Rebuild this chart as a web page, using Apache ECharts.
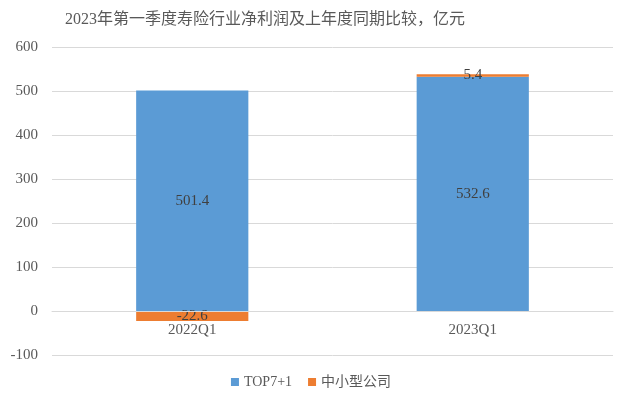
<!DOCTYPE html>
<html><head><meta charset="utf-8">
<script src="https://cdn.jsdelivr.net/npm/echarts@6/dist/echarts.min.js"></script>
<style>html,body{margin:0;padding:0;background:#fff}#c{width:622px;height:414px}</style>
</head><body><div id="c"></div>
<script>
const categories = ['2022Q1', '2023Q1'];
const top7Values = [501.4, 532.6];
const smallValues = [-22.6, 5.4];
const yTicks = { min: -100, max: 600, interval: 100 };

const serif = '"Liberation Serif", "Times New Roman", "Noto Sans CJK SC", serif';
const chart = echarts.init(document.getElementById('c'));
chart.setOption({
  animation: false,
  title: {
    text: '2023年第一季度寿险行业净利润及上年度同期比较，亿元',
    left: 60, top: 7,
    textStyle: { fontFamily: serif, fontSize: 16, fontWeight: 'normal', color: '#595959' }
  },
  legend: {
    bottom: 20, left: 'center', itemWidth: 8, itemHeight: 8, itemGap: 16,
    icon: 'rect',
    textStyle: { fontFamily: serif, fontSize: 14, color: '#595959' },
    data: ['TOP7+1', '中小型公司']
  },
  grid: { left: 52, right: 9, top: 47, bottom: 59, containLabel: false },
  xAxis: {
    type: 'category', data: categories,
    offset: -44, z: 5,
    axisLine: { onZero: false, lineStyle: { color: '#d9d9d9' } },
    axisTick: { show: false },
    axisLabel: { fontFamily: serif, fontSize: 15, color: '#595959', margin: 12 }
  },
  yAxis: {
    type: 'value', min: yTicks.min, max: yTicks.max, interval: yTicks.interval,
    axisLine: { show: false }, axisTick: { show: false },
    splitLine: { lineStyle: { color: '#d9d9d9' } },
    axisLabel: { fontFamily: serif, fontSize: 15, color: '#595959', margin: 14 }
  },
  series: [
    {
      name: 'TOP7+1', type: 'bar', stack: 's', data: top7Values, barWidth: '40%',
      itemStyle: { color: '#5B9BD5' },
      label: { show: true, position: 'inside', fontFamily: serif, fontSize: 15, color: '#404040' }
    },
    {
      name: '中小型公司', type: 'bar', stack: 's', data: smallValues, barWidth: '40%',
      itemStyle: { color: '#ED7D31' },
      label: { show: true, position: 'inside', fontFamily: serif, fontSize: 15, color: '#404040' }
    }
  ]
});
</script></body></html>
